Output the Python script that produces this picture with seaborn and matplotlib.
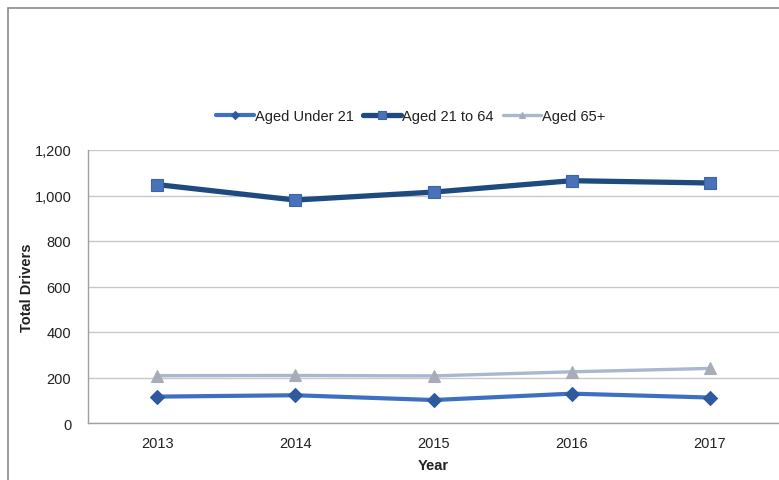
import matplotlib
matplotlib.use("Agg")
import matplotlib.pyplot as plt
from matplotlib.patches import Rectangle
from matplotlib.ticker import FuncFormatter, MultipleLocator
import seaborn as sns
import pandas as pd

years = ["2013", "2014", "2015", "2016", "2017"]
under_21 = [116, 122, 101, 129, 112]
aged_21_64 = [1048, 980, 1015, 1065, 1055]
aged_65_plus = [208, 209, 207, 225, 240]

series_names = ["Aged Under 21", "Aged 21 to 64", "Aged 65+"]
series_values = [under_21, aged_21_64, aged_65_plus]

rows = []
for name, vals in zip(series_names, series_values):
    for i, (yr, v) in enumerate(zip(years, vals)):
        rows.append({"pos": i, "Year": yr, "Drivers": v, "Group": name})
df = pd.DataFrame(rows)

sns.set_style("white")
plt.rcParams["font.family"] = ["Liberation Sans", "DejaVu Sans"]

fig = plt.figure(figsize=(7.79, 4.81), dpi=100)
ax = fig.add_axes([88 / 779, 1 - 424 / 481, 691 / 779, 273 / 481])

# chart-area border (top and left edges visible)
fig.patches.append(Rectangle((8 / 779, -0.2), 1.2, 1.2 - 9 / 481,
                             transform=fig.transFigure, fill=False,
                             edgecolor="#8a8a8a", linewidth=1.2, zorder=0))

styles = {
    "Aged Under 21": dict(color="#3f6fc0", lw=3.0, marker="D", ms=7,
                          mfc="#2f5a9e", mec="#2f5a9e"),
    "Aged 21 to 64": dict(color="#1f4a80", lw=3.8, marker="s", ms=9,
                          mfc="#4a72b8", mec="#3d64a8"),
    "Aged 65+": dict(color="#a9b7d1", lw=2.4, marker="^", ms=8,
                     mfc="#a7adb8", mec="#a7adb8"),
}

for name in series_names:
    st = styles[name]
    sub = df[df["Group"] == name]
    sns.lineplot(data=sub, x="pos", y="Drivers", ax=ax, label=name,
                 color=st["color"], linewidth=st["lw"], marker=st["marker"],
                 markersize=st["ms"], markerfacecolor=st["mfc"],
                 markeredgecolor=st["mec"], markeredgewidth=0.8, zorder=3)

ax.set_xlim(-0.5, len(years) - 0.5)
ax.set_ylim(0, 1200)
ax.set_xticks(range(len(years)))
ax.set_xticklabels(years)
ax.yaxis.set_major_locator(MultipleLocator(200))
ax.yaxis.set_major_formatter(FuncFormatter(lambda v, p: f"{int(v):,}"))

ax.grid(axis="y", color="#c8c8c8", linewidth=1.0)
ax.set_axisbelow(True)
for side in ["top", "right"]:
    ax.spines[side].set_visible(False)
for side in ["left", "bottom"]:
    ax.spines[side].set_color("#a0a0a0")
    ax.spines[side].set_linewidth(1.0)

ax.tick_params(axis="y", which="major", length=4, width=1, color="#a0a0a0",
               direction="out", labelsize=10.5, labelcolor="#222222", pad=8)
ax.tick_params(axis="x", which="major", length=0, labelsize=10.5,
               labelcolor="#222222", pad=9)

ax.set_xlabel("Year", fontsize=10.5, fontweight="bold", color="#222222", labelpad=6)
ax.set_ylabel("Total Drivers", fontsize=10.5, fontweight="bold", color="#222222")
ax.yaxis.set_label_coords(-0.078, 0.5)

leg = ax.legend(loc="center", bbox_to_anchor=(0.467, 1.125), ncol=3, frameon=False,
                fontsize=10.5, handlelength=2.6, handletextpad=0.1,
                columnspacing=0.6, borderaxespad=0, markerscale=0.6)
for t in leg.get_texts():
    t.set_color("#222222")

fig.savefig("out.png", dpi=100, facecolor="white")
